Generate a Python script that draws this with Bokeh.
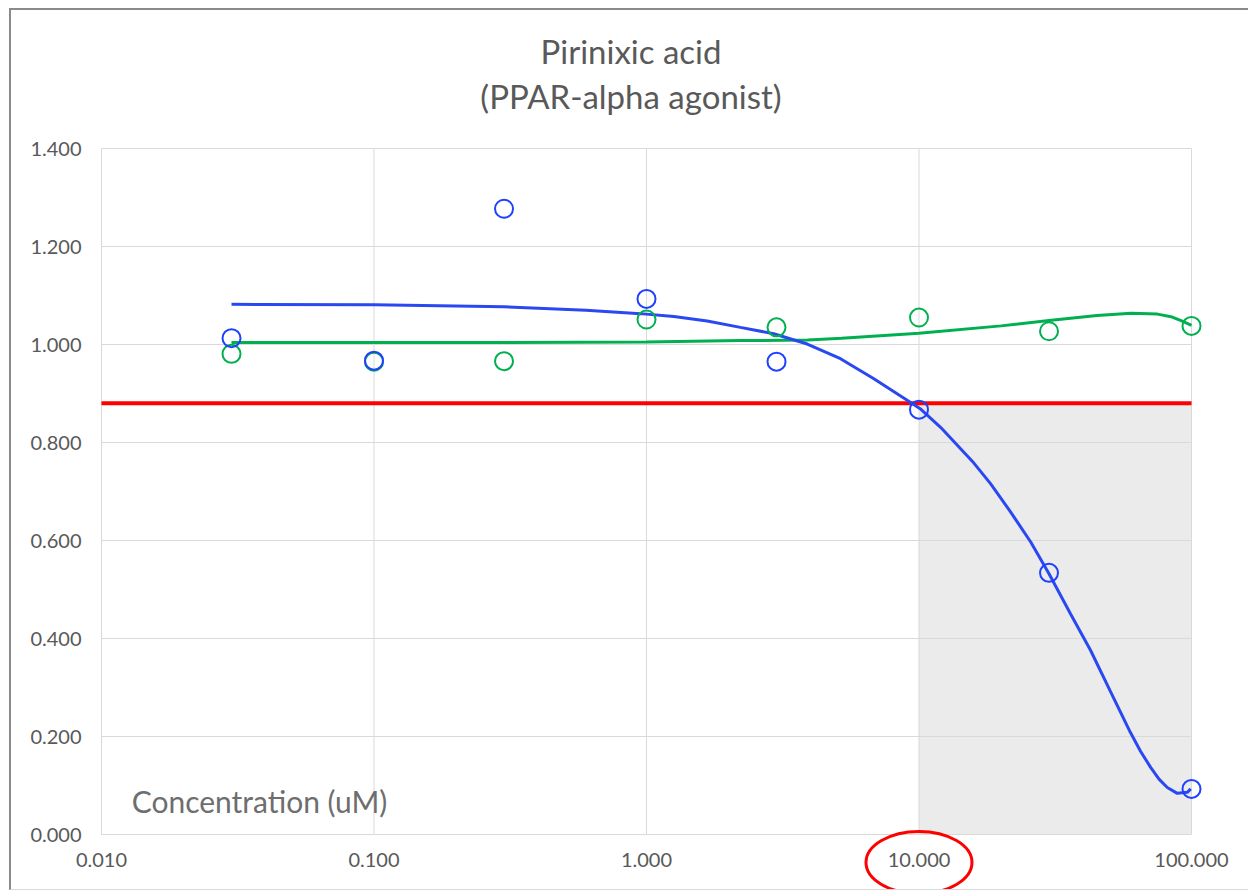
import math
from bokeh.plotting import figure
from bokeh.models import Range1d, FixedTicker, PrintfTickFormatter, Label
from bokeh.embed import file_html
from bokeh.resources import INLINE

# ---------------- data ----------------
conc = [0.03, 0.1, 0.3, 1, 3, 10, 30, 100]
blue_points = [1.013, 0.967, 1.277, 1.093, 0.965, 0.867, 0.534, 0.093]
green_points = [0.981, 0.965, 0.966, 1.051, 1.035, 1.055, 1.027, 1.038]

blue_fit_x = [0.03, 0.1, 0.3, 0.6, 0.95, 1.26, 1.67, 2.21, 2.93, 3.89, 5.15, 6.83,
              9.05, 10.1, 12.0, 15.9, 18.3, 21.7, 25.7, 30.0, 36.0, 42.6, 50.4,
              59.7, 65.0, 70.8, 76.0, 81.5, 88.7, 96.5, 99.4]
blue_fit_y = [1.082, 1.081, 1.077, 1.070, 1.063, 1.057, 1.048, 1.035, 1.022, 1.001,
              0.971, 0.930, 0.886, 0.869, 0.831, 0.758, 0.716, 0.658, 0.597, 0.532,
              0.450, 0.376, 0.292, 0.208, 0.170, 0.137, 0.113, 0.096, 0.084, 0.086,
              0.093]

green_fit_x = [0.03, 0.1, 0.3, 1.0, 2.2, 3.9, 5.2, 10, 20, 30, 45, 60, 75, 85, 93, 100]
green_fit_y = [1.004, 1.004, 1.004, 1.005, 1.008, 1.009, 1.013, 1.023, 1.038, 1.049,
               1.059, 1.064, 1.062, 1.056, 1.047, 1.039]

threshold = 0.88
shade_left, shade_right = 10, 100
highlight_tick = 10

x_ticks = [0.01, 0.1, 1, 10, 100]
y_ticks = [0.0, 0.2, 0.4, 0.6, 0.8, 1.0, 1.2, 1.4]

title_line1 = "Pirinixic acid"
title_line2 = "(PPAR-alpha agonist)"
x_label_text = "Concentration (uM)"

# ---------------- styles / layout ----------------
FONT = "Lato"
GRAY_TXT = "#595959"
GRID = "#d9d9d9"
BLUE = "#2040ff"
BLUE_LINE = "#2a48f2"
GREEN = "#00b050"

W, H = 1239, 882               # canvas size (inside the chart border)
PX_PER_DECADE = 272.5          # horizontal pixels per decade
PX_PER_UNIT = 490.0            # vertical pixels per y unit
LEFT_PX, TOP_PX = 90, 138      # data area offset from canvas top-left
LABEL_DROP = 28                # x tick-label centre below y=0 (px)

data_w = PX_PER_DECADE * math.log10(x_ticks[-1] / x_ticks[0])
data_h = PX_PER_UNIT * (y_ticks[-1] - y_ticks[0])
x_start = x_ticks[0] * 10 ** (-LEFT_PX / PX_PER_DECADE)
x_end = x_ticks[-1] * 10 ** ((W - LEFT_PX - data_w) / PX_PER_DECADE)
y_end = y_ticks[-1] + TOP_PX / PX_PER_UNIT
y_start = y_ticks[0] - (H - TOP_PX - data_h) / PX_PER_UNIT

p = figure(width=W, height=H, x_axis_type="log",
           x_range=Range1d(x_start, x_end), y_range=Range1d(y_start, y_end),
           output_backend="svg", toolbar_location=None,
           min_border=0, min_border_left=0, min_border_right=0,
           min_border_top=0, min_border_bottom=0,
           background_fill_color="white", border_fill_color="white")
p.margin = (8, 0, 0, 9)
p.styles = {"border-top": "2px solid #8a8a8a", "border-left": "2px solid #8a8a8a",
            "border-bottom": "1px solid #d9d9d9"}
p.outline_line_color = None
p.title.visible = False

# axes, pinned to the data area corner
for ax in (p.xaxis, p.yaxis):
    ax.axis_line_color = None
    ax.major_tick_line_color = None
    ax.minor_tick_line_color = None
    ax.major_tick_out = 0
    ax.major_tick_in = 0
    ax.minor_tick_out = 0
    ax.minor_tick_in = 0
    ax.major_label_text_font = FONT
    ax.major_label_text_font_size = "20px"
    ax.major_label_text_color = GRAY_TXT
    ax.formatter = PrintfTickFormatter(format="%.3f")
p.xaxis.ticker = FixedTicker(ticks=x_ticks)
p.yaxis.ticker = FixedTicker(ticks=y_ticks)
p.yaxis.major_label_standoff = 20
p.xaxis.major_label_standoff = 18
p.xaxis.fixed_location = y_ticks[0]
p.yaxis.fixed_location = x_ticks[0]

# grid lines restricted to the data area
p.xgrid.visible = False
p.ygrid.visible = False
p.segment(x0=x_ticks, y0=[y_ticks[0]] * len(x_ticks), x1=x_ticks,
          y1=[y_ticks[-1]] * len(x_ticks), line_color=GRID, line_width=1,
          level="underlay")
p.segment(x0=[x_ticks[0]] * len(y_ticks), y0=y_ticks, x1=[x_ticks[-1]] * len(y_ticks),
          y1=y_ticks, line_color=GRID, line_width=1, level="underlay")

# shaded region
p.quad(left=[shade_left], right=[shade_right], bottom=[0], top=[threshold],
       fill_color="#ebebeb", line_color=None, level="image")

# threshold line
p.segment(x0=[x_ticks[0]], y0=[threshold], x1=[x_ticks[-1]], y1=[threshold],
          line_color="#ff0000", line_width=4)

# fitted curves
p.line(green_fit_x, green_fit_y, line_color=GREEN, line_width=3)
p.line(blue_fit_x, blue_fit_y, line_color=BLUE_LINE, line_width=3)

# points
p.scatter(conc, green_points, marker="circle", size=18, fill_color=None,
          line_color=GREEN, line_width=2)
p.scatter(conc, blue_points, marker="circle", size=18, fill_color=None,
          line_color=BLUE, line_width=2)

# chart title (two centred lines)
x_mid = math.sqrt(x_start * x_end)
p.add_layout(Label(x=x_mid, y=y_ticks[-1] + 98 / PX_PER_UNIT, text=title_line1,
                   text_font=FONT, text_font_size="33px", text_color=GRAY_TXT,
                   text_align="center", text_baseline="middle"))
p.add_layout(Label(x=x_mid, y=y_ticks[-1] + 53 / PX_PER_UNIT, text=title_line2,
                   text_font=FONT, text_font_size="33px", text_color=GRAY_TXT,
                   text_align="center", text_baseline="middle"))

# in-plot axis caption
p.add_layout(Label(x=0.0129, y=0.0675, text=x_label_text, text_font=FONT,
                   text_font_size="30px", text_color="#6e6e6e",
                   text_baseline="alphabetic"))

# red ellipse highlighting the 10.000 tick label
p.ellipse(x=[highlight_tick], y=[-LABEL_DROP / PX_PER_UNIT], width=[106], height=[62],
          width_units="screen", height_units="screen", fill_color=None,
          line_color="#ff0000", line_width=3)

open("out.html", "w").write(file_html(p, INLINE))
